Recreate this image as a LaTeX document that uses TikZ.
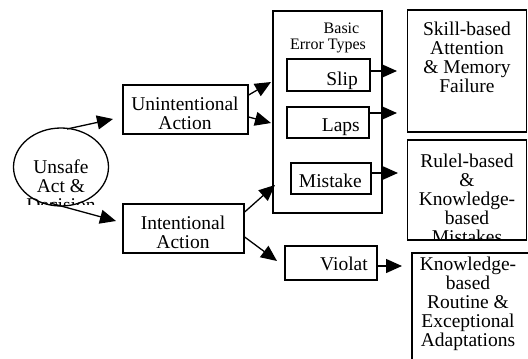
\documentclass[tikz,border=0pt]{standalone}
\usepackage{fontspec}
\setmainfont{Liberation Serif}
\usetikzlibrary{arrows.meta,shapes.geometric}
\newcommand{\fl}{\rule{0pt}{14pt}}
\begin{document}
\begin{tikzpicture}[x=1pt,y=-1pt,
  box/.style={draw, line width=1.3pt, rectangle, inner sep=0pt},
  txt/.style={inner sep=0pt, align=center, font=\fontsize{19.5}{19}\selectfont},
  small/.style={inner sep=0pt, align=center, font=\fontsize{16}{16}\selectfont},
  arr/.style={line width=1.3pt, -{Triangle[length=16pt,width=14pt]}}]
\useasboundingbox (0,0) rectangle (528,359);
\clip (0,0) rectangle (528,359);
% ellipse
\node[draw, line width=1.3pt, ellipse, inner sep=0pt, minimum width=95pt, minimum height=78pt] (ell) at (61,167) {};
\begin{scope}
\clip (0,0) rectangle (200,204);
\node[txt, anchor=north] (ellt) at (61,159) {\fl Unsafe\\Act \&\\Decision};
\end{scope}
% action boxes
\node[box, minimum width=125pt, minimum height=49pt] (una) at (185.5,109.5) {};
\node[txt, anchor=north] (unat) at (185,96) {\fl Unintentional\\Action};
\node[box, minimum width=121pt, minimum height=49pt] (ina) at (183.5,228.5) {};
\node[txt, anchor=north] (inat) at (183,215) {\fl Intentional\\Action};
% container
\node[box, minimum width=109pt, minimum height=202pt] (bet) at (327.5,112) {};
\node[small, anchor=north] (bett) at (328,21) {\rule{0pt}{12pt}\hspace*{27pt}Basic\\Error Types};
\node[box, minimum width=83pt, minimum height=32pt] (slip) at (328.5,75) {};
\node[txt, anchor=base east] (slipt) at (358,85) {Slip};
\node[box, minimum width=82pt, minimum height=31pt] (laps) at (328,122.5) {};
\node[txt, anchor=base east] (lapst) at (360,131) {Laps};
\node[box, minimum width=80pt, minimum height=31pt] (mist) at (331,178.5) {};
\node[txt, anchor=base east] (mistt) at (362,187) {Mistake};
\node[box, minimum width=92pt, minimum height=34pt] (viol) at (331,263) {};
\node[txt, anchor=base east] (violt) at (368,270) {Violat};
% right boxes
\node[box, minimum width=119pt, minimum height=122pt] (skill) at (467,71) {};
\node[txt, anchor=north] (skillt) at (467,21) {\fl Skill-based\\Attention\\\& Memory\\Failure};
\node[box, minimum width=119pt, minimum height=100pt] (rule) at (467,190) {};
\begin{scope}
\clip (400,140) rectangle (528,240);
\node[txt, anchor=north] (rulet) at (467,153) {\fl Rulel-based\\\&\\Knowledge-\\based\\Mistakes};
\end{scope}
\node[box, minimum width=140pt, minimum height=140pt] (know) at (482,323) {};
\node[txt, anchor=north] (knowt) at (468,256) {\fl Knowledge-\\based\\Routine \&\\Exceptional\\Adaptations};
% coordinates
\coordinate (e1) at (67,129);
\coordinate (t1) at (113,119);
\coordinate (e2) at (50,203);
\coordinate (t2) at (116,221);
\coordinate (s1) at (248,95);
\coordinate (t3) at (271,82);
\coordinate (s2) at (248,117);
\coordinate (t4) at (271,123);
\coordinate (s3) at (244,212);
\coordinate (t5) at (275,185);
\coordinate (s4) at (244,237);
\coordinate (t6) at (277,261);
\coordinate (t7) at (397,71);
\coordinate (t8) at (397,113);
\coordinate (t9) at (398,173);
\coordinate (t10) at (402,266);
% connectors
\draw[arr] (e1) -- (t1);
\draw[arr] (e2) -- (t2);
\draw[arr] (una.east |- s1) -- (t3);
\draw[arr] (una.east |- s2) -- (t4);
\draw[arr] (ina.east |- s3) -- (t5);
\draw[arr] (ina.east |- s4) -- (t6);
\draw[arr] (slip.east |- t7) -- (t7);
\draw[arr] (laps.east |- t8) -- (t8);
\draw[arr] (mist.east |- t9) -- (t9);
\draw[arr] (viol.east |- t10) -- (t10);
\end{tikzpicture}
\end{document}
